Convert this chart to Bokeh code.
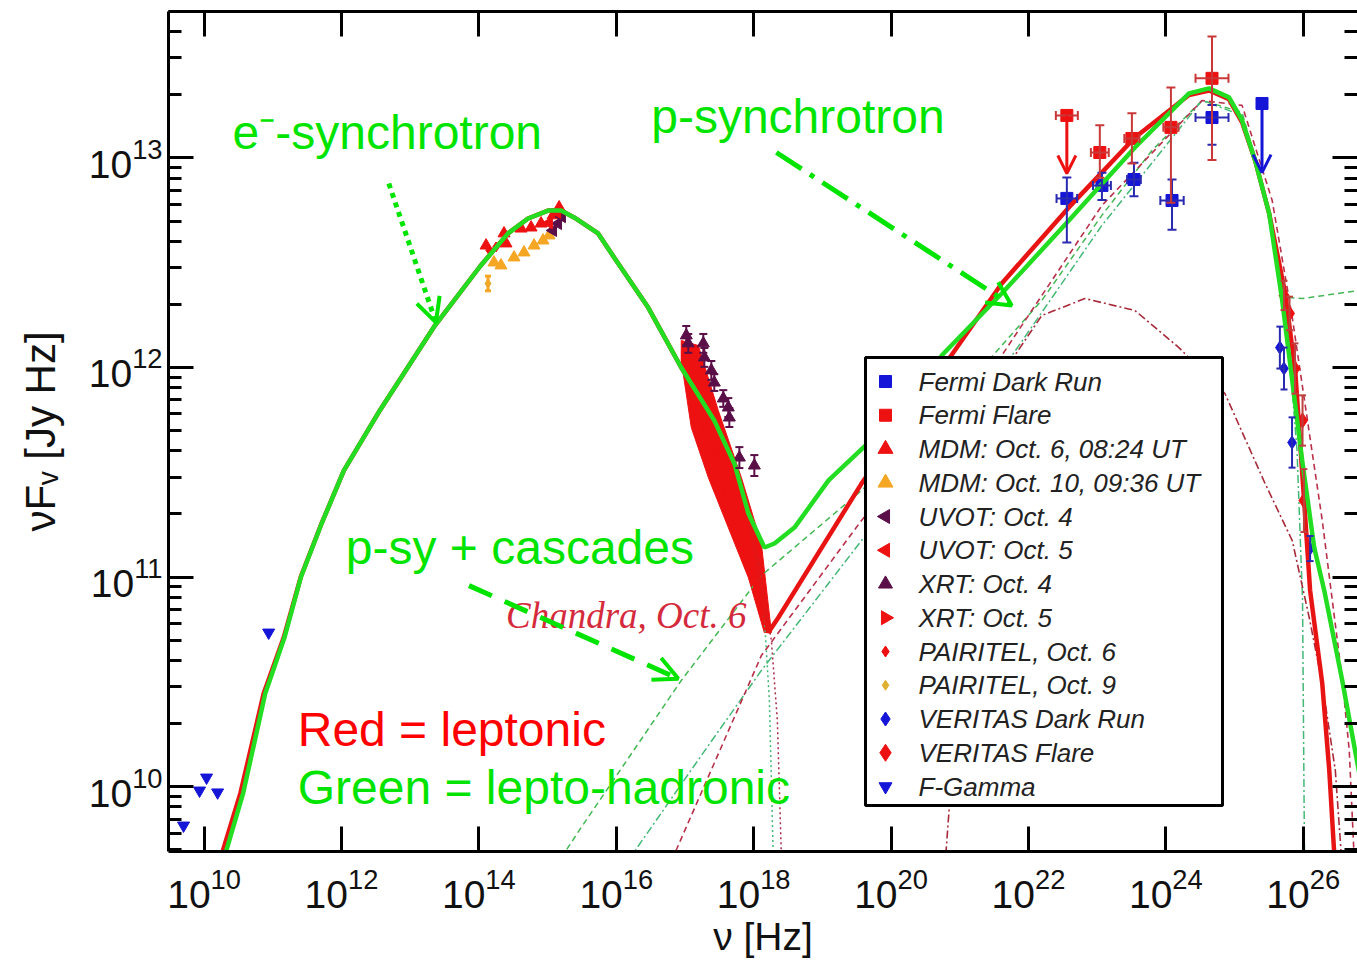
import numpy as np
from bokeh.plotting import figure
from bokeh.models import (ColumnDataSource, LogAxis, FixedTicker, Whisker, TeeHead,
                          Arrow, OpenHead, Label, Range1d, LinearScale,
                          CustomJSTickFormatter)
from bokeh.core.properties import value
from bokeh.embed import file_html
from bokeh.resources import INLINE

# ---------------- values: log10(nu [Hz]) and log10(nuF_nu [Jy Hz]) ----------------
# thick model curves
lep_lognu = [10.20, 10.27, 10.53, 10.867, 11.159, 11.407, 11.698, 12.034, 12.558, 13.36,
             14.016, 14.424, 14.716, 15.007, 15.197, 15.386, 15.736, 15.969, 16.465, 16.946,
             17.427, 17.719, 17.966, 18.214, 18.36, 19.57, 21.611, 22.588, 23.55, 24.337,
             24.629, 24.92, 25.11, 25.30, 25.504, 25.738, 25.883, 26.013, 26.10, 26.277,
             26.379, 26.466]
lep_logf = [9.55, 9.69, 9.97, 10.444, 10.711, 11.0, 11.246, 11.508, 11.795, 12.20,
            12.482, 12.64, 12.711, 12.749, 12.749, 12.716, 12.64, 12.525, 12.286, 12.0,
            11.747, 11.542, 11.222, 10.735, 10.807, 11.446, 12.401, 12.764, 13.098, 13.30,
            13.322, 13.28, 13.17, 12.988, 12.735, 12.353, 11.986, 11.365, 10.936, 10.492,
            10.077, 9.60]
had_lognu = [10.25, 10.32, 10.57, 10.89, 11.17, 11.41, 11.70, 12.034, 12.558, 13.36,
             14.016, 14.424, 14.716, 15.007, 15.197, 15.386, 15.736, 15.969, 16.465, 16.946,
             17.427, 17.719, 17.924, 18.157, 18.303, 18.594, 19.09, 19.862, 20.737, 21.611,
             22.588, 23.55, 24.337, 24.629, 24.92, 25.11, 25.30, 25.504, 25.694, 25.84,
             25.985, 26.16, 26.306, 26.568, 26.816, 27.08]
had_logf = [9.55, 9.69, 9.97, 10.444, 10.711, 11.0, 11.246, 11.508, 11.795, 12.20,
            12.482, 12.64, 12.711, 12.749, 12.749, 12.716, 12.64, 12.525, 12.286, 12.0,
            11.747, 11.542, 11.303, 11.141, 11.16, 11.236, 11.461, 11.70, 12.057, 12.353,
            12.702, 13.05, 13.308, 13.332, 13.289, 13.179, 12.988, 12.735, 12.32, 11.938,
            11.556, 11.141, 10.936, 10.506, 10.063, 9.695]

# thin model components
psycasc_lognu = [15.2, 15.459, 16.946, 18.112, 19.57, 21.027, 22.194, 23.069, 23.798, 24.527,
                 25.11, 25.43, 25.66, 25.77, 25.99, 26.816]
psycasc_logf = [9.66, 9.79, 10.506, 11.007, 11.413, 11.89, 12.32, 12.726, 13.036, 13.274,
                13.218, 12.845, 12.463, 12.334, 12.329, 12.368]
psy_lognu = [16.18, 17.238, 18.112, 19.57, 21.611, 23.069, 24.527, 25.11, 25.47, 25.77,
             25.91, 25.99, 26.02]
psy_logf = [9.65, 10.148, 10.554, 11.174, 11.986, 12.678, 13.274, 13.203, 12.797, 12.177,
            11.604, 10.888, 9.60]
lepic_lognu = [16.81, 18.112, 19.57, 21.611, 23.069, 24.527, 25.11, 25.548, 25.84, 26.277,
               26.57, 26.67, 26.75]
lepic_logf = [9.65, 10.625, 11.27, 12.057, 12.773, 13.274, 13.251, 12.797, 12.239, 11.27,
              10.506, 10.172, 9.60]
bump_lognu = [20.78, 21.027, 21.392, 21.80, 22.194, 22.821, 23.55, 24.19, 24.86, 25.445,
              25.84, 26.087, 26.277, 26.467, 26.57]
bump_logf = [9.60, 10.697, 11.556, 12.057, 12.248, 12.329, 12.272, 12.095, 11.876, 11.446,
             11.174, 10.807, 10.492, 10.077, 9.60]
esyn_had_lognu = [17.719, 17.966, 18.141, 18.229, 18.29]
esyn_had_logf = [11.542, 11.222, 10.888, 10.411, 9.60]
esyn_lep_lognu = [17.82, 18.068, 18.258, 18.345, 18.41]
esyn_lep_logf = [11.437, 11.079, 10.697, 10.315, 9.60]

# Chandra, Oct. 6 band (outline)
chandra_lognu = [16.946, 17.194, 17.485, 17.821, 18.112, 18.258, 18.155, 17.922, 17.631,
                 17.34, 17.092, 16.946]
chandra_logf = [12.129, 12.105, 11.795, 11.475, 11.160, 10.735, 10.735, 10.998, 11.236,
                11.475, 11.714, 12.033]

# observations
fermi_dark_lognu = [22.559, 23.07, 23.536, 24.09, 24.672]
fermi_dark_logf = [12.807, 12.869, 12.897, 12.797, 13.193]
fermi_dark_err_hi = [0.10, 0.06, 0.08, 0.10, 0.06]
fermi_dark_err_lo = [0.21, 0.07, 0.08, 0.14, 0.13]
fermi_dark_xerr = [0.15, 0.13, 0.10, 0.17, 0.24]
fermi_dark_ul_lognu = [25.40]
fermi_dark_ul_logf = [13.26]
fermi_dark_ul_logend = [12.93]

fermi_flare_lognu = [23.039, 23.506, 24.074, 24.672]
fermi_flare_logf = [13.026, 13.093, 13.146, 13.380]
fermi_flare_err_hi = [0.13, 0.12, 0.19, 0.20]
fermi_flare_err_lo = [0.12, 0.12, 0.36, 0.39]
fermi_flare_xerr = [0.13, 0.11, 0.11, 0.24]
fermi_flare_ul_lognu = [22.559]
fermi_flare_ul_logf = [13.203]
fermi_flare_ul_logend = [12.926]
fermi_flare_ul_xerr = [0.16]

mdm6_lognu = [14.105, 14.366, 14.395, 14.614, 14.760, 14.905, 15.08, 15.168]
mdm6_logf = [12.582, 12.640, 12.592, 12.663, 12.668, 12.687, 12.726, 12.764]
mdm10_lognu = [14.22, 14.322, 14.512, 14.657, 14.803, 14.934, 15.022]
mdm10_logf = [12.501, 12.487, 12.525, 12.549, 12.582, 12.606, 12.630]
uvot4_lognu = [15.08, 15.153, 15.21]
uvot4_logf = [12.654, 12.687, 12.72]
uvot5_lognu = [15.02, 15.14]
uvot5_logf = [12.69, 12.74]
xrt4_lognu = [17.019, 17.048, 17.267, 17.282, 17.384, 17.427, 17.558, 17.631, 17.646,
              17.792, 18.01]
xrt4_logf = [12.153, 12.115, 12.115, 12.048, 11.986, 11.928, 11.852, 11.809, 11.761,
             11.570, 11.532]
xrt4_err = [0.045, 0.045, 0.045, 0.045, 0.045, 0.04, 0.04, 0.045, 0.045, 0.05, 0.05]
xrt5_lognu = [17.0, 17.1, 17.2, 17.3, 17.45, 17.6, 17.75, 17.9, 18.05]
xrt5_logf = [12.05, 11.90, 11.80, 11.70, 11.60, 11.42, 11.30, 11.12, 10.95]
pairitel6_lognu = [14.15, 14.25]
pairitel6_logf = [12.56, 12.575]
pairitel9_lognu = [14.133]
pairitel9_logf = [12.401]
pairitel9_err = [0.035]
veritas_dark_lognu = [25.66, 25.72, 25.837, 26.10]
veritas_dark_logf = [12.095, 11.995, 11.642, 11.136]
veritas_dark_err = [0.10, 0.10, 0.12, 0.06]
veritas_flare_lognu = [25.72, 25.80, 25.88, 25.99, 26.01]
veritas_flare_logf = [12.344, 12.258, 11.995, 11.747, 11.365]
veritas_flare_err = [0.07, 0.08, 0.12, 0.12, 0.15]
fgamma_lognu = [9.701, 9.934, 10.036, 10.197, 10.940]
fgamma_logf = [9.814, 9.981, 10.043, 9.972, 10.735]

legend_labels = ["Fermi Dark Run", "Fermi Flare", "MDM: Oct. 6, 08:24 UT",
                 "MDM: Oct. 10, 09:36 UT", "UVOT: Oct. 4", "UVOT: Oct. 5",
                 "XRT: Oct. 4", "XRT: Oct. 5", "PAIRITEL, Oct. 6", "PAIRITEL, Oct. 9",
                 "VERITAS Dark Run", "VERITAS Flare", "F-Gamma"]

x_tick_exps = [10, 12, 14, 16, 18, 20, 22, 24, 26]
y_tick_exps = [10, 11, 12, 13]

# ---------------- helpers / styles ----------------
def P(a):
    return 10 ** np.asarray(a, dtype=float)

FONT = "Liberation Sans"
RED = "#ee1111"
GREEN = "#22dd22"
BLUE = "#1515d8"
PURPLE = "#5a0f48"
ORANGE = "#f5a623"
GOLD = "#e0b030"
TXT_GREEN = "#00e400"

FRAME_W, FRAME_H = 1189, 840

p = figure(width=1357, height=964, x_axis_type="log", y_axis_type="log",
           x_range=Range1d(10 ** 9.482, 10 ** 26.79),
           y_range=Range1d(10 ** 9.690, 10 ** 13.699),
           output_backend="svg", toolbar_location=None,
           min_border_left=168, min_border_bottom=113, min_border_top=11,
           min_border_right=0)
p.outline_line_color = None
p.xgrid.visible = False
p.ygrid.visible = False
p.background_fill_color = "white"
p.border_fill_color = "white"
# pixel-like coordinate system for the legend box (origin at frame top-left)
p.extra_x_ranges = {"lgx": Range1d(0, FRAME_W)}
p.extra_x_scales = {"lgx": LinearScale()}
p.extra_y_ranges = {"lgy": Range1d(FRAME_H, 0)}
p.extra_y_scales = {"lgy": LinearScale()}

xt = [10.0 ** e for e in x_tick_exps]
yt = [10.0 ** e for e in y_tick_exps]
ymin = [k * 10.0 ** e for e in range(9, 14) for k in range(2, 10)]


def style(ax, labels=True):
    ax.axis_line_width = 3
    ax.axis_line_color = "black"
    ax.major_tick_line_width = 3
    ax.minor_tick_line_width = 3
    ax.major_tick_out = 0
    ax.minor_tick_out = 0
    ax.major_tick_in = 25
    ax.minor_tick_in = 13
    ax.major_label_text_font = FONT
    ax.major_label_text_color = "#111111"
    if labels:
        ax.major_label_text_font_size = "39px"
        ax.major_label_standoff = 6
    else:
        ax.formatter = CustomJSTickFormatter(code="return ' '")
        ax.major_label_text_font_size = "2px"
        ax.major_label_text_alpha = 0
        ax.major_label_standoff = 0


xa = p.xaxis[0]
xa.ticker = FixedTicker(ticks=xt, minor_ticks=[])
style(xa)
xa.major_label_standoff = 16
xa.axis_label = "ν [Hz]"
xa.axis_label_text_font = FONT
xa.axis_label_text_font_size = "39px"
xa.axis_label_text_font_style = "normal"
xa.axis_label_text_color = "#111111"
xa.axis_label_standoff = 4

ya = p.yaxis[0]
ya.ticker = FixedTicker(ticks=yt, minor_ticks=ymin)
style(ya)
ya.axis_label = "νFᵥ [Jy Hz]"
ya.axis_label_text_font = FONT
ya.axis_label_text_font_size = "42px"
ya.axis_label_text_font_style = "normal"
ya.axis_label_text_color = "#111111"
ya.axis_label_standoff = 22

top = LogAxis(ticker=FixedTicker(ticks=xt, minor_ticks=[]))
style(top, labels=False)
p.add_layout(top, "above")

right = LogAxis(ticker=FixedTicker(ticks=yt, minor_ticks=ymin))
style(right, labels=False)
right.axis_line_color = None
p.add_layout(right, "right")

# ---------------- Chandra band ----------------
p.patch(P(chandra_lognu), P(chandra_logf), fill_color=RED, line_color=RED, line_width=1)

# ---------------- thin model components ----------------
p.line(P(psycasc_lognu), P(psycasc_logf), line_color="#44b855", line_width=1.5, line_dash="6 4")
p.line(P(psy_lognu), P(psy_logf), line_color="#44b877", line_width=1.5, line_dash="8 3 2 3")
p.line(P(lepic_lognu), P(lepic_logf), line_color="#b8304a", line_width=1.6, line_dash="6 4")
p.line(P(bump_lognu), P(bump_logf), line_color="#a82a3a", line_width=1.6, line_dash="8 3 2 3")
p.line(P(esyn_had_lognu), P(esyn_had_logf), line_color="#44b877", line_width=1.5, line_dash="2 3")
p.line(P(esyn_lep_lognu), P(esyn_lep_logf), line_color="#a82a4a", line_width=1.5, line_dash="2 3")


# ---------------- data points ----------------
def vwhisk(lognu, logf, lo, hi, color, head=9, width=2):
    s = ColumnDataSource(dict(x=P(lognu), lo=P(np.asarray(logf) - np.asarray(lo)),
                              hi=P(np.asarray(logf) + np.asarray(hi))))
    w = Whisker(source=s, base="x", lower="lo", upper="hi", dimension="height",
                line_color=color, line_width=width, level="glyph",
                lower_head=TeeHead(size=head, line_color=color, line_width=width),
                upper_head=TeeHead(size=head, line_color=color, line_width=width))
    p.add_layout(w)


def hwhisk(lognu, logf, xerr, color, head=9, width=2):
    s = ColumnDataSource(dict(y=P(logf), lo=P(np.asarray(lognu) - np.asarray(xerr)),
                              hi=P(np.asarray(lognu) + np.asarray(xerr))))
    w = Whisker(source=s, base="y", lower="lo", upper="hi", dimension="width",
                line_color=color, line_width=width, level="glyph",
                lower_head=TeeHead(size=head, line_color=color, line_width=width),
                upper_head=TeeHead(size=head, line_color=color, line_width=width))
    p.add_layout(w)


def ul_arrow(lognu, logf, logend, color):
    s = ColumnDataSource(dict(x0=P(lognu), y0=P(logf), x1=P(lognu), y1=P(logend)))
    p.add_layout(Arrow(source=s, x_start="x0", y_start="y0", x_end="x1", y_end="y1",
                       line_color=color, line_width=3,
                       end=OpenHead(size=18, line_color=color, line_width=3)))


vwhisk(fermi_dark_lognu, fermi_dark_logf, fermi_dark_err_lo, fermi_dark_err_hi, "#2a2ab0")
hwhisk(fermi_dark_lognu, fermi_dark_logf, fermi_dark_xerr, "#2a2ab0")
vwhisk(fermi_flare_lognu, fermi_flare_logf, fermi_flare_err_lo, fermi_flare_err_hi, "#c83838")
hwhisk(fermi_flare_lognu, fermi_flare_logf, fermi_flare_xerr, "#c83838")
hwhisk(fermi_flare_ul_lognu, fermi_flare_ul_logf, fermi_flare_ul_xerr, "#c83838")
vwhisk(xrt4_lognu, xrt4_logf, xrt4_err, xrt4_err, PURPLE, head=8, width=2)
vwhisk(pairitel9_lognu, pairitel9_logf, pairitel9_err, pairitel9_err, ORANGE, head=6, width=3)
vwhisk(veritas_dark_lognu, veritas_dark_logf, veritas_dark_err, veritas_dark_err, "#2a2ab0", head=7)
vwhisk(veritas_flare_lognu, veritas_flare_logf, veritas_flare_err, veritas_flare_err, "#c04040", head=7)

ul_arrow(fermi_flare_ul_lognu, fermi_flare_ul_logf, fermi_flare_ul_logend, RED)
ul_arrow(fermi_dark_ul_lognu, fermi_dark_ul_logf, fermi_dark_ul_logend, BLUE)

p.scatter(P(fermi_dark_lognu), P(fermi_dark_logf), marker="square", size=12, color=BLUE)
p.scatter(P(fermi_dark_ul_lognu), P(fermi_dark_ul_logf), marker="square", size=12, color=BLUE)
p.scatter(P(fermi_flare_lognu), P(fermi_flare_logf), marker="square", size=12, color=RED)
p.scatter(P(fermi_flare_ul_lognu), P(fermi_flare_ul_logf), marker="square", size=12, color=RED)
p.scatter(P(mdm6_lognu), P(mdm6_logf), marker="triangle", size=12, color=RED)
p.scatter(P(mdm10_lognu), P(mdm10_logf), marker="triangle", size=12, color=ORANGE)
p.scatter(P(uvot4_lognu), P(uvot4_logf), marker="triangle", angle=np.pi / 2, size=12, color=PURPLE)
p.scatter(P(uvot5_lognu), P(uvot5_logf), marker="triangle", angle=np.pi / 2, size=12, color=RED)
p.scatter(P(xrt4_lognu), P(xrt4_logf), marker="triangle", size=12, color=PURPLE)
p.scatter(P(xrt5_lognu), P(xrt5_logf), marker="triangle", angle=-np.pi / 2, size=12, color=RED)
p.scatter(P(pairitel6_lognu), P(pairitel6_logf), marker="diamond", size=10, color=RED)
p.scatter(P(pairitel9_lognu), P(pairitel9_logf), marker="diamond", size=9, color=GOLD)
p.scatter(P(veritas_dark_lognu), P(veritas_dark_logf), marker="diamond", size=13, color=BLUE)
p.scatter(P(veritas_flare_lognu), P(veritas_flare_logf), marker="diamond", size=15, color=RED)
p.scatter(P(fgamma_lognu), P(fgamma_logf), marker="inverted_triangle", size=12, color=BLUE)

# ---------------- thick model curves ----------------
p.line(P(lep_lognu), P(lep_logf), line_color="#e81414", line_width=4.5)
p.line(P(had_lognu), P(had_logf), line_color=GREEN, line_width=4.5)


# ---------------- annotations ----------------
def label(lx, ly, text, color, size="48px", font=FONT, style="normal"):
    p.add_layout(Label(x=10 ** lx, y=10 ** ly, text=text, text_color=color,
                       text_font=font, text_font_size=size,
                       text_font_style=style, text_baseline="alphabetic", text_align="left"))


label(10.415, 13.12, "e⁻-synchrotron", TXT_GREEN)
label(16.509, 13.20, "p-synchrotron", TXT_GREEN)
label(12.063, 11.14, "p-sy + cascades", TXT_GREEN)
label(11.363, 10.27, "Red = leptonic", "#ff0000")
label(11.363, 9.995, "Green = lepto-hadronic", TXT_GREEN)
label(14.395, 10.815, "Chandra, Oct. 6", "#d42a3c", size="37px",
      font="Liberation Serif", style="italic")

ann_x0 = [12.689, 18.331, 13.856]
ann_y0 = [12.878, 13.026, 10.959]
ann_x1 = [13.375, 21.757, 16.902]
ann_y1 = [12.215, 12.296, 10.515]
ann_dash = ["5 5", "30 10 5 10", "25 14"]
for i in range(3):
    p.add_layout(Arrow(x_start=10 ** ann_x0[i], y_start=10 ** ann_y0[i],
                       x_end=10 ** ann_x1[i], y_end=10 ** ann_y1[i],
                       line_color=TXT_GREEN, line_width=5, line_dash=ann_dash[i],
                       end=OpenHead(size=24, line_color=TXT_GREEN, line_width=4)))

# ---------------- legend (drawn in frame pixel coordinates) ----------------
leg_marker = ["square", "square", "triangle", "triangle", "triangle", "triangle",
              "triangle", "triangle", "diamond", "diamond", "diamond", "diamond",
              "inverted_triangle"]
leg_angle = [0, 0, 0, 0, np.pi / 2, np.pi / 2, 0, -np.pi / 2, 0, 0, 0, 0, 0]
leg_color = [BLUE, RED, RED, ORANGE, PURPLE, RED, PURPLE, RED, RED, GOLD, BLUE, RED, BLUE]
leg_size = [12, 12, 15, 15, 14, 14, 14, 14, 11, 10, 14, 17, 13]
n = len(legend_labels)
leg_y = [24 + 346 + 33.75 * i for i in range(n)]

p.quad(left=[697], right=[1054], top=[346], bottom=[794], fill_color="white",
       line_color="black", line_width=3, x_range_name="lgx", y_range_name="lgy",
       level="overlay")
lsrc = ColumnDataSource(dict(x=[717] * n, tx=[750] * n, y=leg_y, marker=leg_marker,
                             angle=leg_angle, color=leg_color, size=leg_size,
                             label=legend_labels))
p.scatter(x="x", y="y", marker="marker", angle="angle", size="size", fill_color="color",
          line_color="color", source=lsrc, x_range_name="lgx", y_range_name="lgy",
          level="overlay")
p.text(x="tx", y="y", text="label", source=lsrc, text_font=value(FONT),
       text_font_style="italic", text_font_size="26px", text_color="#222222",
       text_baseline="middle", text_align="left", x_range_name="lgx", y_range_name="lgy",
       level="overlay")

open("out.html", "w").write(file_html(p, INLINE))
